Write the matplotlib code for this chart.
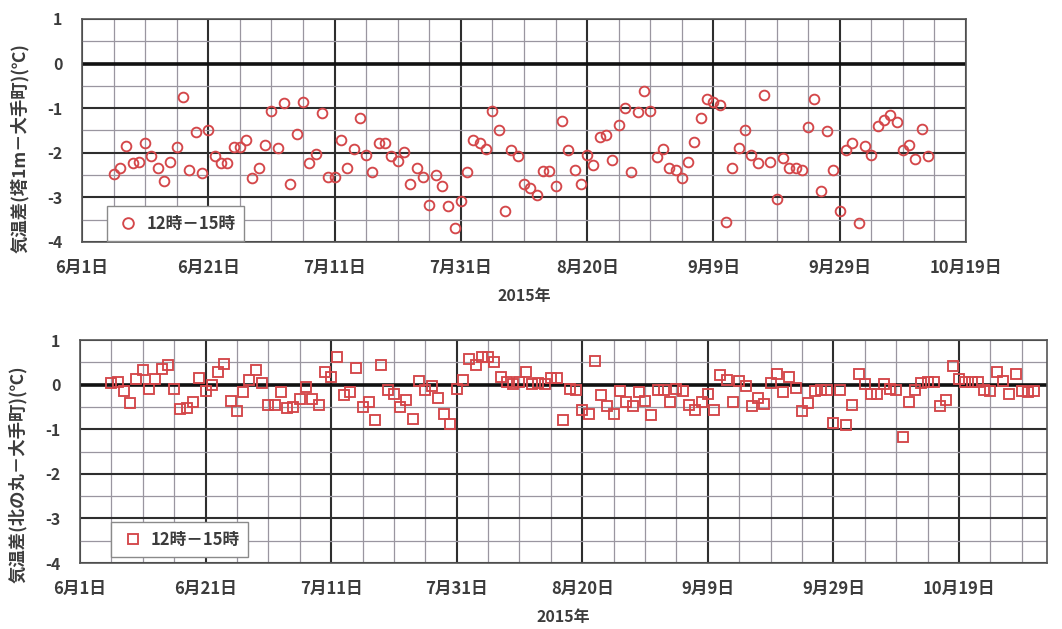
import numpy as np
import matplotlib
matplotlib.use("Agg")
import matplotlib.pyplot as plt

plt.rcParams["font.family"] = ["Noto Sans CJK JP", "DejaVu Sans"]
plt.rcParams["font.weight"] = "bold"
plt.rcParams["axes.labelweight"] = "bold"

# ── Data (day 0 = 6月1日, one value per day, 12時-15時 mean) ────────────────
top_days = list(range(5, 135))
top_vals = [
    -2.47, -2.35, -1.85, -2.24, -2.20, -1.77, -2.08, -2.35, -2.64, -2.21,
    -1.86, -0.74, -2.38, -1.54, -2.45, -1.49, -2.08, -2.24, -2.24, -1.86,
    -1.86, -1.71, -2.56, -2.35, -1.83, -1.06, -1.90, -0.89, -2.71, -1.58,
    -0.87, -2.24, -2.03, -1.11, -2.54, -2.54, -1.71, -2.33, -1.92, -1.23,
    -2.05, -2.43, -1.77, -1.79, -2.08, -2.18, -1.98, -2.69, -2.35, -2.54,
    -3.16, -2.50, -2.74, -3.20, -3.68, -3.07, -2.44, -1.71, -1.79, -1.92,
    -1.07, -1.49, -3.31, -1.94, -2.08, -2.71, -2.78, -2.95, -2.41, -2.41,
    -2.74, -1.28, -1.94, -2.38, -2.69, -2.05, -2.28, -1.64, -1.60, -2.17,
    -1.38, -1.00, -2.43, -1.08, -0.61, -1.07, -2.09, -1.92, -2.35, -2.38,
    -2.56, -2.21, -1.75, -1.21, -0.79, -0.87, -0.93, -3.56, -2.35, -1.90,
    -1.50, -2.05, -2.24, -0.70, -2.20, -3.03, -2.11, -2.35, -2.35, -2.39,
    -1.43, -0.80, -2.86, -1.51, -2.39, -3.31, -1.94, -1.77, -3.58, -1.85,
    -2.05, -1.39, -1.26, -1.15, -1.30, -1.94, -1.83, -2.14, -1.47, -2.08,
]

bot_days = list(range(5, 153))
bot_vals = [
    0.04, 0.05, -0.15, -0.42, 0.13, 0.33, -0.10, 0.13, 0.35, 0.45,
    -0.10, -0.55, -0.53, -0.38, 0.15, -0.15, 0.00, 0.28, 0.47, -0.36,
    -0.60, -0.17, 0.11, 0.32, 0.03, -0.46, -0.46, -0.16, -0.53, -0.50,
    -0.32, -0.05, -0.32, -0.46, 0.28, 0.18, 0.62, -0.23, -0.17, 0.38,
    -0.51, -0.38, -0.80, 0.43, -0.12, -0.20, -0.51, -0.35, -0.77, 0.08,
    -0.12, -0.02, -0.29, -0.66, -0.89, -0.10, 0.11, 0.58, 0.45, 0.63,
    0.63, 0.50, 0.18, 0.05, 0.02, 0.05, 0.28, 0.02, 0.03, 0.02,
    0.15, 0.15, -0.79, -0.10, -0.12, -0.57, -0.66, 0.53, -0.23, -0.47,
    -0.66, -0.15, -0.40, -0.47, -0.17, -0.36, -0.68, -0.12, -0.12, -0.38,
    -0.10, -0.15, -0.45, -0.57, -0.40, -0.21, -0.57, 0.21, 0.11, -0.38,
    0.09, -0.02, -0.47, -0.30, -0.44, 0.03, 0.24, -0.17, 0.17, -0.08,
    -0.59, -0.42, -0.14, -0.12, -0.12, -0.85, -0.12, -0.90, -0.45, 0.24,
    0.02, -0.21, -0.21, 0.02, -0.10, -0.12, -1.17, -0.40, -0.12, 0.03,
    0.05, 0.05, -0.47, -0.35, 0.41, 0.13, 0.05, 0.05, 0.05, -0.12,
    -0.15, 0.28, 0.09, -0.21, 0.24, -0.15, -0.17, -0.14,
]

tick_days   = [0, 20, 40, 60, 80, 100, 120, 140]
tick_labels = ["6月1日", "6月21日", "7月11日", "7月31日",
               "8月20日", "9月9日", "9月29日", "10月19日"]
y_ticks     = [1, 0, -1, -2, -3, -4]
legend_lbl  = "12時－15時"

RED   = "#d4474a"
TXT   = "#3c3c3c"
MAJOR = "#2e2e2e"
MINOR = "#9a96a0"

fig = plt.figure(figsize=(10.62, 6.29), dpi=100, facecolor="white")


def style_axes(ax, xmax, ylabel, label_xy):
    ax.set_xlim(0, xmax)
    ax.set_ylim(-4, 1)
    ax.set_xticks(tick_days)
    ax.set_xticklabels(tick_labels)
    ax.set_xticks(np.arange(0, xmax + 0.1, 5), minor=True)
    ax.set_yticks(y_ticks)
    ax.set_yticklabels([str(v) for v in y_ticks])
    ax.set_yticks(np.arange(-4, 1.01, 0.5), minor=True)
    ax.grid(which="minor", color=MINOR, linewidth=0.9)
    ax.grid(which="major", color=MAJOR, linewidth=1.5)
    ax.axhline(0, color="#111111", linewidth=2.6, zorder=2)
    ax.set_axisbelow(True)
    ax.tick_params(which="both", length=0)
    ax.tick_params(axis="x", pad=12, labelsize=12, labelcolor=TXT)
    ax.tick_params(axis="y", pad=14, labelsize=11.5, labelcolor=TXT)
    for s in ax.spines.values():
        s.set_color("#555555")
        s.set_linewidth(1.2)
    ax.set_xlabel("2015年", fontsize=11.5, color=TXT, labelpad=8)
    ax.set_ylabel(ylabel, fontsize=12.5, color=TXT)
    ax.yaxis.set_label_coords(*label_xy)


def add_legend(ax, anchor):
    ax.legend(loc="lower left", bbox_to_anchor=anchor, borderaxespad=0,
              fancybox=False, edgecolor="#8a8a8a", framealpha=1,
              fontsize=12, handletextpad=0.3, handlelength=1.6,
              borderpad=0.5, labelcolor=TXT, markerscale=1.1)


# ── Top panel: 塔1m − 大手町 ─────────────────────────────────────────────────
ax1 = fig.add_axes([0.0772, 0.6153, 0.8324, 0.3545])
ax1.plot(top_days, top_vals, linestyle="none", marker="o", markersize=7,
         markerfacecolor="none", markeredgecolor=RED, markeredgewidth=1.35,
         label=legend_lbl, zorder=3)
style_axes(ax1, 140, "気温差(塔1m－大手町)(℃)", (-0.06, 0.42))
add_legend(ax1, (0.028, 0.004))

# ── Bottom panel: 北の丸 − 大手町 ────────────────────────────────────────────
ax2 = fig.add_axes([0.0753, 0.1049, 0.9105, 0.3545])
ax2.plot(bot_days, bot_vals, linestyle="none", marker="s", markersize=7,
         markerfacecolor="none", markeredgecolor=RED, markeredgewidth=1.35,
         label=legend_lbl, zorder=3)
style_axes(ax2, 154, "気温差(北の丸－大手町)(℃)", (-0.055, 0.40))
add_legend(ax2, (0.032, 0.027))

fig.savefig("out.png", dpi=100, facecolor="white")
